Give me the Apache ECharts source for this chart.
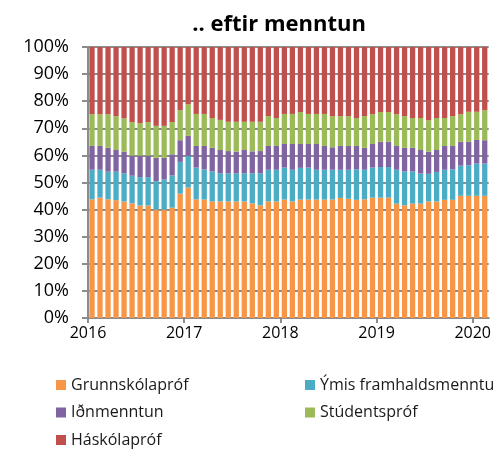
<!DOCTYPE html>
<html>
<head>
<meta charset="utf-8">
<script src="https://cdn.jsdelivr.net/npm/echarts@6/dist/echarts.min.js"></script>
<style>
html,body{margin:0;padding:0;background:#fff;}
#c{width:494px;height:452px;}
</style>
</head>
<body>
<div id="c"></div>
<script>
// Months Jan 2016 .. Feb 2020
var months = [];
for (var y = 2016; y <= 2020; y++) {
  for (var m = 1; m <= 12; m++) {
    if (y === 2020 && m > 2) break;
    months.push(y + '-' + (m < 10 ? '0' + m : m));
  }
}
var yearTicks = [0, 12, 24, 36, 48];
var yearLabels = ['2016', '2017', '2018', '2019', '2020'];
var yTickLabels = ['0%','10%','20%','30%','40%','50%','60%','70%','80%','90%','100%'];

var grunnskolaprof = [43.8,44.4,43.8,43.5,43.0,42.3,41.5,41.5,40.0,40.0,40.7,45.9,48.1,43.8,43.7,43.0,43.0,43.0,43.0,43.0,42.3,41.6,43.0,43.0,43.7,43.0,43.7,43.7,43.7,43.7,43.7,44.3,44.0,43.6,43.8,44.4,44.4,44.4,42.2,41.6,42.2,42.2,43.0,43.0,43.6,43.6,45.1,45.1,45.1,45.1];
var ymis = [10.9,10.3,10.2,10.5,10.4,10.2,10.5,10.5,10.5,11.1,11.9,11.7,11.7,11.7,11.1,11.1,10.4,10.4,10.4,10.4,11.1,11.8,11.7,11.7,11.8,11.7,11.7,11.8,11.0,11.0,11.0,10.4,10.7,11.3,10.9,11.1,11.3,11.3,12.5,12.5,11.9,11.1,10.2,10.9,11.1,11.3,11.1,11.3,11.9,11.9];
var idnmenntun = [8.8,8.8,8.8,8.0,7.9,7.4,7.9,7.9,8.6,8.0,7.8,8.0,7.4,8.0,8.7,8.7,8.6,8.2,8.0,8.6,8.1,8.2,8.8,8.8,8.7,9.5,8.8,8.7,9.5,8.8,8.3,8.8,8.8,8.6,8.1,8.7,9.3,9.3,8.8,8.7,8.7,8.7,8.2,8.1,8.8,8.6,8.8,8.6,8.7,8.6];
var studentsprof = [11.7,11.7,12.4,12.5,12.4,12.4,12.0,12.4,11.8,11.8,11.9,11.1,11.7,11.8,11.8,11.0,11.1,10.8,11.0,10.4,10.9,10.8,11.0,10.3,11.1,11.1,11.8,11.1,11.1,11.8,11.5,11.0,11.0,10.3,11.7,11.0,11.0,11.0,11.7,11.7,11.0,11.8,11.6,11.8,10.3,11.0,10.2,11.1,10.4,11.1];
var haskolaprof = [24.8,24.8,24.8,25.5,26.3,27.7,28.1,27.7,29.1,29.1,27.7,23.3,21.1,24.7,24.7,26.2,26.9,27.6,27.6,27.6,27.6,27.6,25.5,26.2,24.7,24.7,24.0,24.7,24.7,24.7,25.5,25.5,25.5,26.2,25.5,24.8,24.0,24.0,24.8,25.5,26.2,26.2,27.0,26.2,26.2,25.5,24.8,23.9,23.9,23.3];

var names = ['Grunnskólapróf','Ýmis framhaldsmenntun','Iðnmenntun','Stúdentspróf','Háskólapróf'];
var colors = ['#F79646','#4BACC6','#8064A2','#9BBB59','#C0504D'];
var values = [grunnskolaprof, ymis, idnmenntun, studentsprof, haskolaprof];

var FONT = '"Open Sans", Lato, sans-serif';
var chart = echarts.init(document.getElementById('c'), null, {renderer: 'canvas'});

var series = names.map(function (n, i) {
  return {
    name: n,
    type: 'bar',
    stack: 'total',
    xAxisIndex: 0,
    yAxisIndex: 0,
    data: values[i],
    barWidth: '66%',
    itemStyle: {color: colors[i]},
    emphasis: {disabled: true}
  };
});

var legendText = {fontFamily: FONT, fontSize: 16, color: '#1a1a1a', lineHeight: 16};

chart.setOption({
  animation: false,
  color: colors,
  title: {
    text: '.. eftir menntun',
    left: 274,
    textAlign: 'center',
    top: 9,
    textStyle: {fontFamily: FONT, fontSize: 22, fontWeight: 'bold', color: '#000'}
  },
  legend: [
    {
      data: ['Grunnskólapróf','Iðnmenntun','Háskólapróf'],
      orient: 'vertical', left: 56, top: 377, padding: 0,
      itemWidth: 10, itemHeight: 10, itemGap: 11.5,
      icon: 'rect', textStyle: legendText, selectedMode: false
    },
    {
      data: ['Ýmis framhaldsmenntun','Stúdentspróf'],
      orient: 'vertical', left: 305, top: 377, padding: 0,
      itemWidth: 10, itemHeight: 10, itemGap: 11.5,
      icon: 'rect', textStyle: legendText, selectedMode: false
    }
  ],
  grid: {left: 88, top: 47, width: 404, height: 271, containLabel: false},
  xAxis: [
    {
      type: 'category',
      data: months,
      show: false,
      boundaryGap: true
    },
    {
      type: 'value',
      min: 0,
      max: months.length,
      interval: 12,
      position: 'bottom',
      axisLine: {show: true, lineStyle: {color: '#8c8c8c', width: 2}},
      axisTick: {show: true, length: 5, lineStyle: {color: '#8c8c8c', width: 2}, customValues: yearTicks},
      splitLine: {show: false},
      axisLabel: {
        customValues: yearTicks,
        margin: 7,
        fontFamily: FONT, fontSize: 16, color: '#000',
        formatter: function (v) { return yearLabels[yearTicks.indexOf(v)] || ''; }
      }
    }
  ],
  yAxis: {
    type: 'value',
    min: 0, max: 100, interval: 10,
    axisLine: {show: true, lineStyle: {color: '#8c8c8c', width: 2}},
    axisTick: {show: true, length: 6, lineStyle: {color: '#8c8c8c', width: 2}},
    splitLine: {show: true, lineStyle: {color: '#8c8c8c', width: 2}},
    axisLabel: {
      margin: 19,
      fontFamily: FONT, fontSize: 18, color: '#000',
      formatter: function (v) { return yTickLabels[Math.round(v / 10)]; }
    }
  },
  series: series
});
</script>
</body>
</html>
